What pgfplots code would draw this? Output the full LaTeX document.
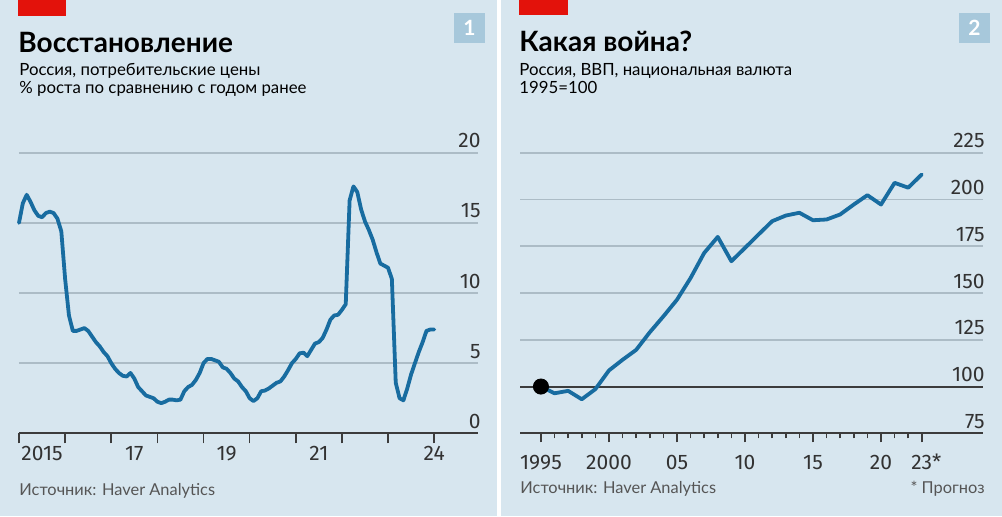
\documentclass[border=0pt]{standalone}
\usepackage{fontspec}
\setmainfont{Lato}
\newfontfamily\tickfont{Fira Sans}
\usepackage{pgfplots}
\pgfplotsset{compat=1.18}
\definecolor{bg}{RGB}{215,230,239}
\definecolor{econred}{RGB}{227,18,11}
\definecolor{badge}{RGB}{167,200,219}
\definecolor{lineblue}{RGB}{24,108,160}
\definecolor{gridgray}{RGB}{172,188,198}
\definecolor{axisdark}{RGB}{60,60,60}
\definecolor{tickcol}{RGB}{50,50,50}
\definecolor{srccol}{RGB}{85,85,85}

\pgfplotstableread{
t v
2015.000 15.0
2015.083 16.4
2015.167 17.0
2015.250 16.5
2015.333 15.9
2015.417 15.5
2015.500 15.4
2015.583 15.7
2015.667 15.8
2015.750 15.7
2015.833 15.3
2015.917 14.4
2016.000 11.0
2016.083 8.4
2016.167 7.3
2016.250 7.3
2016.333 7.4
2016.417 7.5
2016.500 7.3
2016.583 6.9
2016.667 6.5
2016.750 6.2
2016.833 5.8
2016.917 5.5
2017.000 5.0
2017.083 4.6
2017.167 4.3
2017.250 4.1
2017.333 4.05
2017.417 4.3
2017.500 3.9
2017.583 3.3
2017.667 3.0
2017.750 2.7
2017.833 2.6
2017.917 2.5
2018.000 2.25
2018.083 2.15
2018.167 2.25
2018.250 2.4
2018.333 2.4
2018.417 2.35
2018.500 2.4
2018.583 3.0
2018.667 3.3
2018.750 3.45
2018.833 3.8
2018.917 4.3
2019.000 5.0
2019.083 5.3
2019.167 5.3
2019.250 5.2
2019.333 5.1
2019.417 4.7
2019.500 4.6
2019.583 4.3
2019.667 3.9
2019.750 3.7
2019.833 3.3
2019.917 3.0
2020.000 2.5
2020.083 2.3
2020.167 2.5
2020.250 3.0
2020.333 3.05
2020.417 3.2
2020.500 3.4
2020.583 3.6
2020.667 3.7
2020.750 4.05
2020.833 4.5
2020.917 5.0
2021.000 5.3
2021.083 5.7
2021.167 5.75
2021.250 5.5
2021.333 5.95
2021.417 6.4
2021.500 6.5
2021.583 6.8
2021.667 7.4
2021.750 8.1
2021.833 8.4
2021.917 8.45
2022.000 8.8
2022.083 9.2
2022.167 16.6
2022.250 17.6
2022.333 17.2
2022.417 15.95
2022.500 15.1
2022.583 14.5
2022.667 13.8
2022.750 12.9
2022.833 12.1
2022.917 11.95
2023.000 11.8
2023.083 11.0
2023.167 3.6
2023.250 2.5
2023.333 2.35
2023.417 3.2
2023.500 4.2
2023.583 5.0
2023.667 5.8
2023.750 6.5
2023.833 7.3
2023.917 7.4
2024.000 7.4
}\cpi

\pgfplotstableread{
t v
1995 100
1996 96.4
1997 97.7
1998 93.2
1999 98.6
2000 108.6
2001 114.3
2002 119.6
2003 129.0
2004 137.5
2005 146.4
2006 158.0
2007 171.4
2008 180.0
2009 167.0
2010 174.1
2011 181.3
2012 188.4
2013 191.4
2014 192.9
2015 188.9
2016 189.3
2017 192.0
2018 197.3
2019 202.3
2020 197.3
2021 208.9
2022 206.3
2023 213.4
}\gdp

\pgfplotsset{
  econ/.style={
    scale only axis,
    anchor=south west,
    height=140.3pt,
    axis x line*=bottom,
    axis y line*=right,
    y axis line style={draw=none},
    x axis line style={line width=1pt, color=axisdark},
    ymajorgrids,
    grid style={gridgray, line width=0.8pt},
    ytick style={draw=none},
    tick align=outside,
    xtick style={line width=0.8pt, color=axisdark},
    /pgf/number format/assume math mode=true,
    ticklabel style={font=\tickfont\fontsize{10.5}{12}\selectfont, color=tickcol},
    yticklabel style={anchor=base east, inner sep=0pt, xshift=-3.5pt, yshift=2.5pt},
    xticklabel style={anchor=base, inner sep=0pt, yshift=-13.5pt},
    clip=false,
  }
}

\begin{document}
\begin{tikzpicture}
\begin{scope}[x=0.5pt,y=-0.5pt]
\useasboundingbox (0,0) rectangle (1002,516);
\fill[white] (0,0) rectangle (1002,516);
\fill[bg] (0,0) rectangle (497,516);
\fill[bg] (501,0) rectangle (1002,516);
\fill[econred] (18,0) rectangle (66,16);
\fill[econred] (519,0) rectangle (568,15);
\fill[badge] (454,13) rectangle (485,43);
\fill[badge] (959,13) rectangle (990,43);
\node[white, inner sep=0pt, font=\bfseries\fontsize{10.5}{12}\selectfont] at (469.5,28) {1};
\node[white, inner sep=0pt, font=\bfseries\fontsize{10.5}{12}\selectfont] at (974.5,28) {2};
\node[anchor=base west, inner sep=0pt, font=\bfseries\fontsize{14}{16}\selectfont] at (18,52) {Восстановление};
\node[anchor=base west, inner sep=0pt, font=\fontsize{8.4}{10}\selectfont] at (19,75) {Россия, потребительские цены};
\node[anchor=base west, inner sep=0pt, font=\fontsize{8.4}{10}\selectfont] at (19,93) {\% роста по сравнению с годом ранее};
\node[anchor=base west, inner sep=0pt, font=\bfseries\fontsize{14}{16}\selectfont] at (519,51) {Какая война?};
\node[anchor=base west, inner sep=0pt, font=\fontsize{8.4}{10}\selectfont] at (519,75) {Россия, ВВП, национальная валюта};
\node[anchor=base west, inner sep=0pt, font=\fontsize{8.4}{10}\selectfont] at (519,93) {1995=100};
\node[anchor=base west, inner sep=0pt, text=srccol, font=\fontsize{8.2}{10}\selectfont] at (19,495) {Источник: Haver Analytics};
\node[anchor=base west, inner sep=0pt, text=srccol, font=\fontsize{8.2}{10}\selectfont] at (520,493) {Источник: Haver Analytics};
\node[anchor=base east, inner sep=0pt, text=srccol, font=\fontsize{8.2}{10}\selectfont] at (985,493) {* Прогноз};
\end{scope}

\begin{axis}[econ,
  at={(9.5pt,-216.65pt)},
  width=229.5pt,
  xmin=2015, xmax=2024.95, ymin=0, ymax=20,
  ytick={0,5,10,15,20},
  xtick={2015,2016,...,2024},
  xticklabels={},
  major tick length=5pt,
  extra x ticks={2015.5,2017.5,2019.5,2021.5,2024},
  extra x tick labels={2015,17,19,21,24},
  extra x tick style={major tick length=0pt, xtick style={draw=none}},
]
\addplot[lineblue, line width=1.9pt, line join=round, line cap=round] table[x=t,y=v] {\cpi};
\end{axis}

\begin{axis}[econ,
  at={(260pt,-216.65pt)},
  width=231.5pt,
  xmin=1993.46, xmax=2027.5, ymin=75, ymax=225,
  ytick={75,125,150,175,200,225},
  extra y ticks={100},
  extra y tick style={grid style={axisdark, line width=1pt}},
  xtick={1995,2000,2005,2010,2015,2020,2023},
  xticklabels={1995,2000,05,10,15,20,23\rlap{*}},
  minor xtick={1996,1997,1998,1999,2001,2002,2003,2004,2006,2007,2008,2009,2011,2012,2013,2014,2016,2017,2018,2019,2021,2022},
  major tick length=4.5pt,
  minor tick length=2.5pt,
  minor x tick style={line width=0.8pt, color=axisdark},
]
\addplot[lineblue, line width=1.9pt, line join=round, line cap=round] table[x=t,y=v] {\gdp};
\addplot[only marks, mark=*, mark size=3.8pt, black] coordinates {(1995,100)};
\end{axis}
\end{tikzpicture}
\end{document}
